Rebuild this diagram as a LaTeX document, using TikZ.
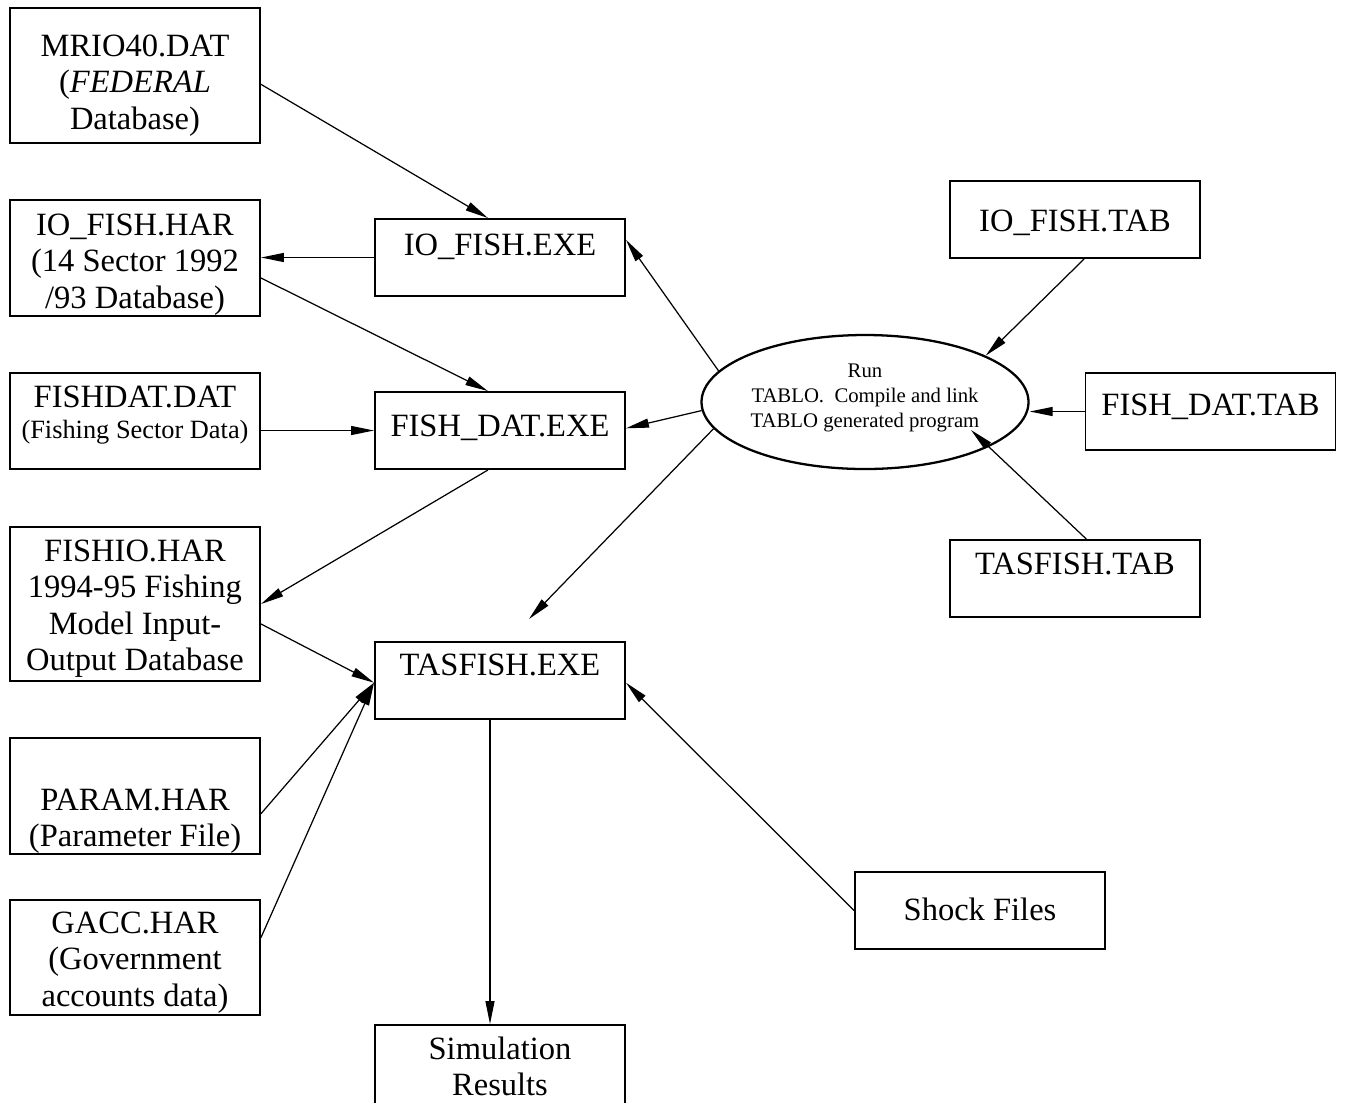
\documentclass[tikz,border=0pt]{standalone}
\usepackage{fontspec}
\setmainfont{Liberation Serif}
\usetikzlibrary{shapes,arrows.meta,calc}

\begin{document}
\begin{tikzpicture}[x=0.2mm, y=-0.2mm,
    box/.style={draw, line width=1.1pt, text width=50mm, align=flush center, inner sep=0pt,
        font=\fontsize{18.5}{20.8}\selectfont},
    flow/.style={-{Triangle[length=4.6mm,width=1.8mm]}, line width=0.7pt}]
    \useasboundingbox (0,0) rectangle (1346,1102);

    % input files, left column
    \node [box, text height=9.6mm, text depth=17.4mm] (mrio) at (135,75.5) {MRIO40.DAT\\(\textit{FEDERAL}\\Database)};
    \node [box, text height=7mm, text depth=16.2mm] (iohar) at (135,258) {IO\_FISH.HAR\\(14 Sector 1992\\/93 Database)};
    \node [box, text height=6.8mm, text depth=12.4mm] (fishdat) at (135,421) {FISHDAT.DAT\\[-2.6pt]{\fontsize{15}{18}\selectfont (Fishing Sector Data)}};
    \node [box, text height=6.8mm, text depth=24mm] (fishio) at (135,604) {FISHIO.HAR\\1994-95 Fishing\\Model Input-\\Output Database};
    \node [box, text height=14.4mm, text depth=8.8mm] (param) at (135,796) {PARAM.HAR\\(Parameter File)};
    \node [box, text height=6.6mm, text depth=16.4mm] (gacc) at (135,957.5) {GACC.HAR\\(Government\\accounts data)};

    % programs
    \node [box, text height=7.2mm, text depth=8.2mm] (ioexe) at (500,257.5) {IO\_FISH.EXE};
    \node [box, text height=8.8mm, text depth=6.6mm] (fdexe) at (500,430.5) {FISH\_DAT.EXE};
    \node [box, text height=6.6mm, text depth=8.8mm] (tasexe) at (500,680.5) {TASFISH.EXE};
    \node [box, text height=6.8mm, text depth=12.2mm] (simres) at (500,1072.5) {Simulation\\Results};

    % TABLO step and its inputs
    \node [draw, ellipse, line width=1.3pt, minimum width=65.4mm, minimum height=26.8mm, inner sep=0pt,
        align=flush center, font=\fontsize{11.8}{14.2}\selectfont, text height=11mm, text depth=1mm]
        (ell) at (865,402) {Run\\TABLO.\ \ Compile and link\\TABLO generated program};
    \node [box, text height=10mm, text depth=5.4mm] (iotab) at (1075,219.5) {IO\_FISH.TAB};
    \node [box, text height=8.4mm, text depth=7mm] (fdtab) at (1210.5,411.5) {FISH\_DAT.TAB};
    \node [box, text height=6.8mm, text depth=8.6mm] (tastab) at (1075,578.5) {TASFISH.TAB};
    \node [box, text height=9.6mm, text depth=5.8mm] (shock) at (980,910.5) {Shock Files};

    \coordinate (exehead) at (529,619); % arrow stops short of TASFISH.EXE
    \coordinate (tabhead) at (971,430); % arrow ends inside the ellipse

    \draw [flow] (mrio.-4) -- (ioexe.107);
    \draw [flow] (ioexe.west) -- (ioexe.west -| iohar.east);
    \draw [flow] (iohar.-9) -- (fdexe.107);
    \draw [flow] (fishdat.east |- fdexe.west) -- (fdexe.west);
    \draw [flow] (fdexe.-107) -- (fishio.east);
    \draw [flow] (fishio.-9) -- (tasexe.181);
    \draw [flow] (param.-8) -- (tasexe.181);
    \draw [flow] (gacc.9) -- (tasexe.181);
    \draw [flow] ([xshift=-2mm]tasexe.south) -- ([xshift=-2mm]simres.north);
    \draw [flow] (shock.west) -- (tasexe.-1);

    \draw [flow] (ell.168) -- (ioexe.8);
    \draw [flow] (ell.183) -- (fdexe.1);
    \draw [flow] (ell.190) -- (exehead);
    \draw [flow] (iotab.-77) -- (ell.21);
    \draw [flow] (fdtab.west) -- (fdtab.west -| ell.east);
    \draw [flow] (tastab.74) -- (tabhead);
\end{tikzpicture}
\end{document}
